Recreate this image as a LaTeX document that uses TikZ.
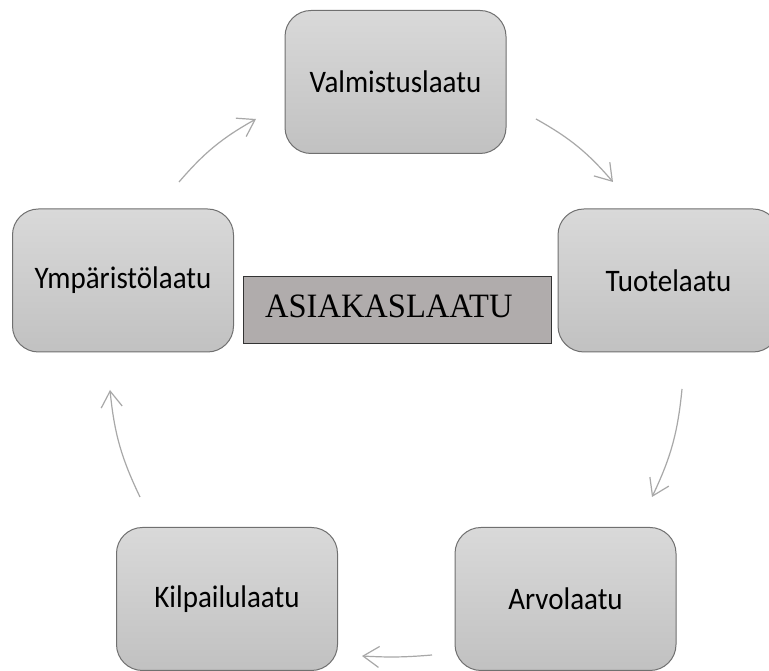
\documentclass[tikz,border=0pt]{standalone}
\usepackage{fontspec}
\setmainfont{Carlito}
\newfontfamily\serifcentral{Liberation Serif}
\usetikzlibrary{arrows.meta}
\definecolor{boxtop}{HTML}{D9D9D9}
\definecolor{boxbot}{HTML}{C1C1C1}
\definecolor{boxline}{HTML}{707070}
\definecolor{arrowgray}{HTML}{A8A8A8}
\definecolor{centralfill}{HTML}{B0ACAC}
\newcommand{\tallertext}[1]{\scalebox{1}[1.08]{#1}}
\tikzset{
  qbox/.style={draw=boxline, line width=1pt, rounded corners=26pt,
    top color=boxtop, bottom color=boxbot, shading angle=0,
    minimum width=221pt, minimum height=143pt, inner sep=0pt,
    font=\fontsize{29}{34}\selectfont, text=black},
  cbox/.style={draw=black!80, line width=1pt, fill=centralfill},
  cyc/.style={draw=arrowgray, line width=1.2pt,
    -{Straight Barb[length=16pt,width=21pt,line width=1.2pt]}, bend left=10}
}
\begin{document}
\begin{tikzpicture}[x=1pt,y=1pt]
\clip (0,0) rectangle (769,671);
\fill[white] (0,0) rectangle (769,671);
\node[qbox] (valm) at (395.5,589) {\tallertext{Valmistuslaatu}};
\node[qbox] (tuote) at (668.5,390.5) {\tallertext{Tuotelaatu}};
\node[qbox] (ymp) at (123,390.5) {\tallertext{Ympäristölaatu}};
\node[qbox] (kilp) at (227,72) {\tallertext{Kilpailulaatu}};
\node[qbox] (arvo) at (565.5,72) {\tallertext{Arvolaatu}};
\node[cbox, minimum width=308pt, minimum height=67pt, inner sep=0pt] (asiakas) at (397,360.5) {};
\node[anchor=base west, inner sep=0pt, font=\serifcentral\fontsize{32.5}{36}\selectfont] (asiakastxt) at (265,353) {\scalebox{1}[1.05]{ASIAKASLAATU}};
\coordinate (s1) at (179,489); \coordinate (e1) at (256,552);
\coordinate (s2) at (536,552); \coordinate (e2) at (613,489);
\coordinate (s3) at (682,282); \coordinate (e3) at (652,174);
\coordinate (s4) at (432,16);  \coordinate (e4) at (362,15);
\coordinate (s5) at (140,174); \coordinate (e5) at (110,281);
\draw[cyc] (s1) to (e1);
\draw[cyc] (s2) to (e2);
\draw[cyc] (s3) to (e3);
\draw[cyc, bend left=4] (s4) to (e4);
\draw[cyc] (s5) to (e5);
\end{tikzpicture}
\end{document}
